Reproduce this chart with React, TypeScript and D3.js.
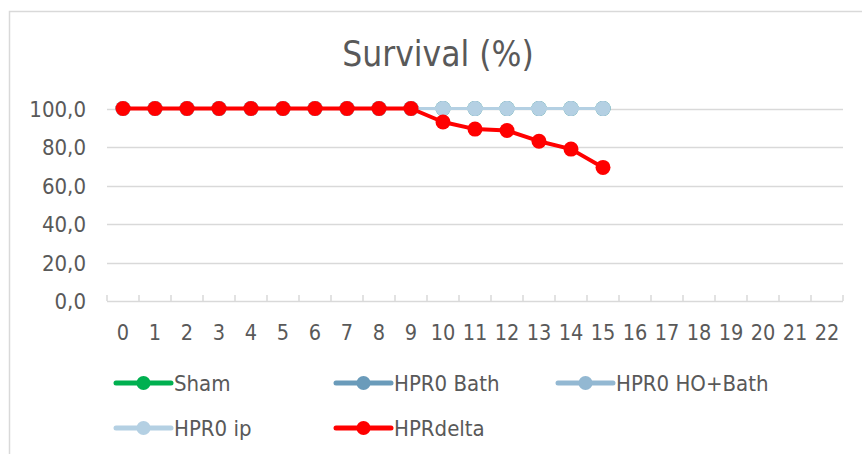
import React, { useEffect, useRef } from "react";
import * as d3 from "d3";

const days = d3.range(0, 23).map(String);
const yTicks = [0, 20, 40, 60, 80, 100];

const sham = [100, 100, 100, 100, 100, 100, 100, 100, 100, 100, 100, 100, 100, 100, 100, 100];
const hpr0Bath = [100, 100, 100, 100, 100, 100, 100, 100, 100, 100, 100, 100, 100, 100, 100, 100];
const hpr0HoBath = [100, 100, 100, 100, 100, 100, 100, 100, 100, 100, 100, 100, 100, 100, 100, 100];
const hpr0Ip = [100, 100, 100, 100, 100, 100, 100, 100, 100, 100, 100, 100, 100, 100, 100, 100];
const hprDelta = [100, 100, 100, 100, 100, 100, 100, 100, 100, 100, 93.0, 89.3, 88.6, 83.0, 78.9, 69.4];

const seriesNames = ["Sham", "HPR0 Bath", "HPR0 HO+Bath", "HPR0 ip", "HPRdelta"];
const seriesData = [sham, hpr0Bath, hpr0HoBath, hpr0Ip, hprDelta];
const seriesColors = ["#00b050", "#6a9bba", "#93b8d2", "#b4d0e3", "#ff0000"];
const seriesWidths = [3, 3, 3, 3, 4];

const W = 862;
const H = 454;
const FONT = "'DejaVu Sans Condensed', 'DejaVu Sans', sans-serif";
const TEXT = "#595959";
const GRID = "#d9d9d9";

export default function App() {
  const svgRef = useRef<SVGSVGElement>(null);

  useEffect(() => {
    const el = svgRef.current;
    if (!el) return;
    const svg = d3.select(el);
    svg.selectAll("*").remove();

    const left = 107, right = 843, top = 108.5, bottom = 301;

    const x = d3.scaleBand<string>().domain(days).range([left, right]);
    const y = d3.scaleLinear().domain([0, 100]).range([bottom, top]);
    const cx = (i: number) => (x(days[i]) as number) + x.bandwidth() / 2;

    // chart border
    svg.append("path")
      .attr("d", `M9.5,${H} V11.5 H${W}`)
      .attr("fill", "none")
      .attr("stroke", GRID)
      .attr("stroke-width", 1.5);

    // title
    svg.append("text")
      .attr("x", 438)
      .attr("y", 66)
      .attr("text-anchor", "middle")
      .attr("font-family", FONT)
      .attr("font-size", 35)
      .attr("fill", TEXT)
      .text("Survival (%)");

    // gridlines
    svg.append("g")
      .selectAll("line")
      .data(yTicks.filter((d) => d > 0))
      .join("line")
      .attr("x1", left)
      .attr("x2", right)
      .attr("y1", (d) => Math.round(y(d)) + 0.5)
      .attr("y2", (d) => Math.round(y(d)) + 0.5)
      .attr("stroke", GRID)
      .attr("stroke-width", 1.5);

    // x axis line and ticks
    svg.append("line")
      .attr("x1", left)
      .attr("x2", right)
      .attr("y1", bottom + 0.5)
      .attr("y2", bottom + 0.5)
      .attr("stroke", GRID)
      .attr("stroke-width", 1.5);

    svg.append("g")
      .selectAll("line")
      .data(d3.range(0, days.length + 1))
      .join("line")
      .attr("x1", (i) => left + i * x.step())
      .attr("x2", (i) => left + i * x.step())
      .attr("y1", bottom - 6)
      .attr("y2", bottom)
      .attr("stroke", GRID)
      .attr("stroke-width", 1.5);

    // y labels
    svg.append("g")
      .selectAll("text")
      .data(yTicks)
      .join("text")
      .attr("x", 86)
      .attr("y", (d) => y(d) + 8)
      .attr("text-anchor", "end")
      .attr("font-family", FONT)
      .attr("font-size", 22)
      .attr("fill", TEXT)
      .text((d) => d3.format(".1f")(d).replace(".", ","));

    // x labels
    svg.append("g")
      .selectAll("text")
      .data(days)
      .join("text")
      .attr("x", (d, i) => cx(i))
      .attr("y", 340)
      .attr("text-anchor", "middle")
      .attr("font-family", FONT)
      .attr("font-size", 21.5)
      .attr("fill", TEXT)
      .text((d) => d);

    const line = d3.line<number>()
      .x((d, i) => cx(i))
      .y((d) => y(d));

    seriesData.forEach((data, s) => {
      const g = svg.append("g");
      g.append("path")
        .datum(data)
        .attr("fill", "none")
        .attr("stroke", seriesColors[s])
        .attr("stroke-width", seriesWidths[s])
        .attr("stroke-linejoin", "round")
        .attr("d", line);
      g.selectAll("circle")
        .data(data)
        .join("circle")
        .attr("cx", (d, i) => cx(i))
        .attr("cy", (d) => y(d))
        .attr("r", 7.5)
        .attr("fill", seriesColors[s]);
    });

    // legend
    const legendPos = [
      [116, 383], [336, 383], [558, 383],
      [116, 428], [336, 428],
    ];
    seriesNames.forEach((name, s) => {
      const [lx, ly] = legendPos[s];
      const g = svg.append("g");
      g.append("line")
        .attr("x1", lx)
        .attr("x2", lx + 55)
        .attr("y1", ly)
        .attr("y2", ly)
        .attr("stroke", seriesColors[s])
        .attr("stroke-width", 5)
        .attr("stroke-linecap", "round");
      g.append("circle")
        .attr("cx", lx + 27.5)
        .attr("cy", ly)
        .attr("r", 7)
        .attr("fill", seriesColors[s]);
      g.append("text")
        .attr("x", lx + 58)
        .attr("y", ly + 8)
        .attr("font-family", FONT)
        .attr("font-size", 22)
        .attr("fill", TEXT)
        .text(name);
    });
  }, []);

  return (
    <svg
      ref={svgRef}
      width={W}
      height={H}
      viewBox={`0 0 ${W} ${H}`}
      style={{ position: "absolute", left: 0, top: 0, background: "#fff", display: "block" }}
    />
  );
}
